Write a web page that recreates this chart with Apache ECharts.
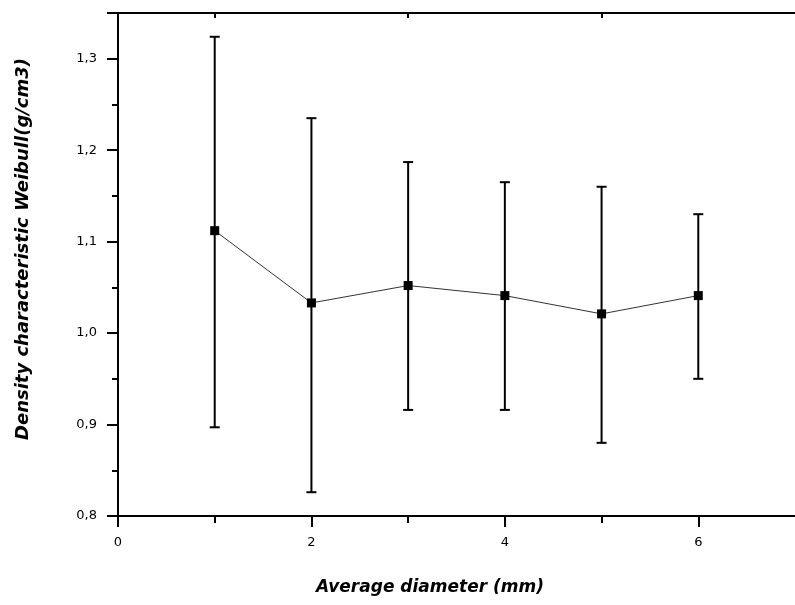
<!DOCTYPE html>
<html lang="en">
<head>
    <meta charset="UTF-8">
    <title>Weibull density</title>
    <style>
        * { margin: 0; }
        html, body, #chart { width: 795px; height: 605px; background: #fff; }
    </style>
</head>
<body>
    <div id="chart"></div>
    <script src="https://cdn.jsdelivr.net/npm/echarts@6/dist/echarts.min.js"></script>
    <script>
        // values
        var diameters = [1, 2, 3, 4, 5, 6];
        var density = [1.112, 1.033, 1.052, 1.041, 1.021, 1.041];
        var errHigh = [1.324, 1.235, 1.187, 1.165, 1.160, 1.130];
        var errLow = [0.897, 0.826, 0.916, 0.916, 0.880, 0.950];
        var xMajor = [0, 2, 4, 6];
        var xMinor = [1, 3, 5];
        var xTitle = 'Average diameter (mm)';
        var yTitle = 'Density characteristic Weibull(g/cm3)';

        var chart = echarts.init(document.getElementById('chart'));
        var font = 'DejaVu Sans';
        var black = { color: '#000', width: 2 };

        var pts = [];
        var bars = [];
        for (var i = 0; i < diameters.length; i++) {
            pts.push([diameters[i], density[i]]);
            bars.push([diameters[i], errLow[i], errHigh[i]]);
        }

        function commaLabel(v) {
            return v.toFixed(1).replace('.', ',');
        }

        var option = {
            animation: false,
            backgroundColor: '#fff',
            grid: { left: 118, right: 0, top: 13, bottom: 89 },
            xAxis: [{
                type: 'value', min: 0, max: 7, position: 'bottom',
                axisLine: { lineStyle: black },
                axisTick: { length: 11, customValues: xMajor, lineStyle: black },
                splitLine: { show: false },
                axisLabel: { color: '#000', fontSize: 13, fontFamily: font, margin: 20, customValues: xMajor }
            }, {
                // minor ticks on the bottom
                type: 'value', min: 0, max: 7, position: 'bottom', offset: 0,
                axisLine: { show: false },
                axisTick: { length: 7, customValues: xMinor, lineStyle: black },
                axisLabel: { show: false },
                splitLine: { show: false }
            }, {
                type: 'value', min: 0, max: 7, position: 'top',
                axisLine: { lineStyle: black },
                axisTick: { inside: true, length: 5, customValues: xMinor, lineStyle: black },
                axisLabel: { show: false },
                splitLine: { show: false }
            }],
            yAxis: {
                type: 'value', min: 0.8, max: 1.35, interval: 0.1,
                axisLine: { show: true, lineStyle: black },
                axisTick: { show: true, length: 11, lineStyle: black },
                minorTick: { show: true, splitNumber: 2, length: 6, lineStyle: black },
                splitLine: { show: false },
                axisLabel: {
                    color: '#000', fontSize: 13, fontFamily: font, margin: 21,
                    showMaxLabel: false, formatter: commaLabel
                }
            },
            graphic: [{
                type: 'text', x: 430, y: 588,
                style: {
                    text: xTitle, font: 'italic bold 17px ' + font, fill: '#000',
                    align: 'center', verticalAlign: 'middle'
                }
            }, {
                type: 'text', x: 23, y: 249, rotation: Math.PI / 2,
                style: {
                    text: yTitle, font: 'italic bold 18px ' + font, fill: '#000',
                    align: 'center', verticalAlign: 'middle'
                }
            }],
            series: [{
                type: 'custom',
                data: bars,
                z: 2,
                renderItem: function (params, api) {
                    var x = api.value(0);
                    var lo = api.coord([x, api.value(1)]);
                    var hi = api.coord([x, api.value(2)]);
                    var style = { stroke: '#000', lineWidth: 2 };
                    return {
                        type: 'group',
                        children: [
                            { type: 'line', shape: { x1: lo[0], y1: lo[1], x2: hi[0], y2: hi[1] }, style: style },
                            { type: 'line', shape: { x1: lo[0] - 5, y1: lo[1], x2: lo[0] + 5, y2: lo[1] }, style: style },
                            { type: 'line', shape: { x1: hi[0] - 5, y1: hi[1], x2: hi[0] + 5, y2: hi[1] }, style: style }
                        ]
                    };
                }
            }, {
                type: 'line',
                data: pts,
                z: 3,
                symbol: 'rect',
                symbolSize: 9,
                itemStyle: { color: '#000' },
                lineStyle: { color: '#333', width: 1 }
            }]
        };
        chart.setOption(option);
    </script>
</body>
</html>
